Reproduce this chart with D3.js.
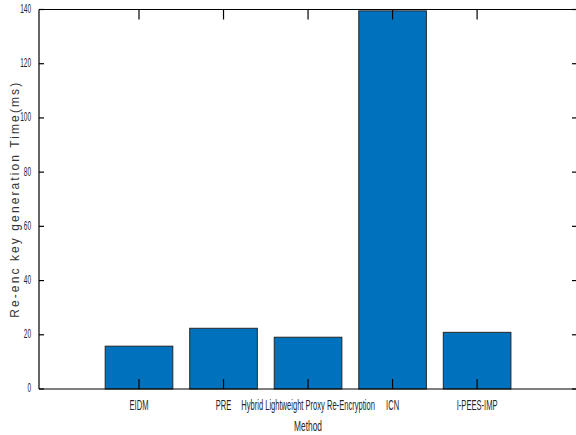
<!DOCTYPE html>
<html><head><meta charset="utf-8">
<script src="https://cdn.jsdelivr.net/npm/d3@7"></script>
<style>body{margin:0;background:#fff}svg{display:block}</style>
</head><body>
<svg id="c" width="576" height="435"></svg>
<script>
const categories = ["EIDM","PRE","Hybrid Lightweight Proxy Re-Encryption","ICN","I-PEES-IMP"];
const values = [15.8, 22.4, 19.1, 139.5, 20.9];
const yTicks = [0,20,40,60,80,100,120,140];
const xLabel = "Method";
const yLabel = "Re-enc key generation Time(ms)";

const svg = d3.select("#c");
const L = 39, R = 576, T = 9.5, B = 389;
const x = d3.scaleLinear().domain([-0.183, 6.17]).range([L, R]);
const y = d3.scaleLinear().domain([0, 140]).range([B, T]);
const idx = categories.map((d,i)=>i+1);
const bw = 0.8;

// bars
svg.append("g").selectAll("rect").data(values).join("rect")
  .attr("x", (d,i)=>x(idx[i]-bw/2)).attr("width", x(bw)-x(0))
  .attr("y", d=>y(d)).attr("height", d=>y(0)-y(d))
  .attr("fill","#0072BD").attr("stroke","#262626").attr("stroke-width",1);

// box
const ax = svg.append("g").attr("stroke","#000").attr("stroke-width",1.2).attr("fill","none");
ax.append("path").attr("d",`M${L},${T}H${R}M${L},${B}H${R}M${L},${T}V${B}`);

// y ticks
yTicks.forEach(t=>{
  ax.append("line").attr("x1",L).attr("x2",L+5).attr("y1",y(t)).attr("y2",y(t));
  ax.append("line").attr("x1",R).attr("x2",R-4).attr("y1",y(t)).attr("y2",y(t));
});
// x ticks
idx.forEach(i=>{
  ax.append("line").attr("x1",x(i)).attr("x2",x(i)).attr("y1",B).attr("y2",B-10);
  ax.append("line").attr("x1",x(i)).attr("x2",x(i)).attr("y1",T).attr("y2",T+10);
});

const font = "'Liberation Sans', Arial, sans-serif";
svg.append("g").selectAll("text").data(yTicks).join("text")
  .attr("transform", d=>`translate(${L-8},${y(d)-1}) scale(0.52,1)`)
  .attr("dy","0.35em")
  .attr("text-anchor","end").attr("font-family",font).attr("font-size",12.5)
  .attr("fill","#262626").text(d=>d);
svg.append("g").selectAll("text").data(categories).join("text")
  .attr("transform",(d,i)=>`translate(${x(idx[i])},410) scale(0.54,1)`)
  .attr("text-anchor","middle").attr("font-family",font).attr("font-size",14)
  .attr("fill","#262626").text(d=>d);
svg.append("text").attr("transform",`translate(${x(3)},431) scale(0.56,1)`).attr("text-anchor","middle")
  .attr("font-family",font).attr("font-size",15).attr("fill","#262626").text(xLabel);
svg.append("text").attr("transform",`translate(19,${(T+B)/2}) rotate(-90)`)
  .attr("text-anchor","middle").attr("font-family",font)
  .attr("font-size",12).attr("letter-spacing","2.1px").attr("fill","#333").text(yLabel);
</script>
</body></html>
